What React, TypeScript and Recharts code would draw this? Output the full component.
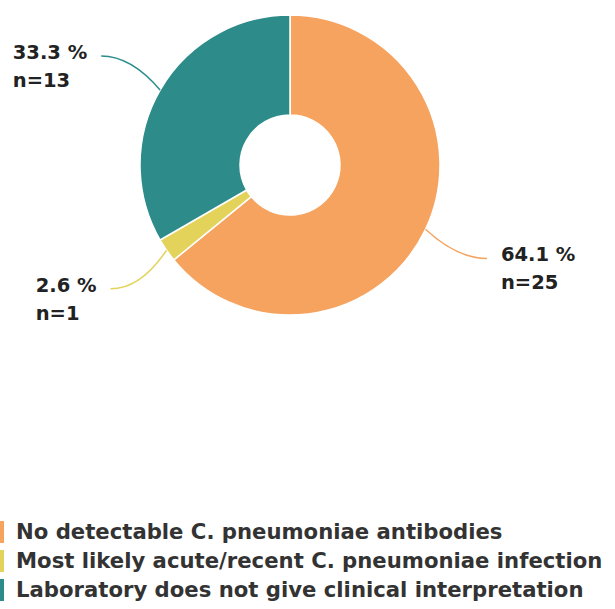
import { PieChart, Pie, Cell, Legend } from 'recharts'

const categories = [
  'No detectable C. pneumoniae antibodies',
  'Most likely acute/recent C. pneumoniae infection',
  'Laboratory does not give clinical interpretation',
]
const counts = [25, 1, 13]
const COLORS = ['#F5A35E', '#E3D35A', '#2D8C8A']

const data = categories.map((name, i) => ({ name, value: counts[i] }))
const total = counts.reduce((a, b) => a + b, 0)

const RADIAN = Math.PI / 180
const FONT = '"DejaVu Sans", sans-serif'
const LABEL_SIZE = 19.5

const CHAR_W: Record<string, number> = { '.': 0.38, ' ': 0.348, '%': 1.002, 'n': 0.712, '=': 0.838 }
const textWidth = (s: string) =>
  s.split('').reduce((w, c) => w + (CHAR_W[c] ?? 0.696), 0) * LABEL_SIZE

const renderLabel = (props: any) => {
  const { cx, cy, midAngle, outerRadius, index } = props
  const cos = Math.cos(-midAngle * RADIAN)
  const sin = Math.sin(-midAngle * RADIAN)
  const sx = cx + outerRadius * cos
  const sy = cy + outerRadius * sin
  const r2 = outerRadius + 68
  const ex = cx + r2 * cos
  const ey = cy + r2 * sin
  const right = cos >= 0
  const qx = ex + (right ? -30 : 30)
  const color = COLORS[index]
  const pct = `${((counts[index] / total) * 100).toFixed(1)} %`
  const n = `n=${counts[index]}`
  const w = Math.max(textWidth(pct), textWidth(n))
  const tx = right ? ex + 14 : ex - 14 - w
  return (
    <g>
      <path d={`M${sx},${sy} Q${qx},${ey} ${ex},${ey}`} stroke={color} strokeWidth={1.5} fill="none" />
      <text x={tx} y={ey + 3} fill="#222" fontSize={LABEL_SIZE} fontWeight="bold" fontFamily={FONT}>
        <tspan x={tx}>{pct}</tspan>
        <tspan x={tx} dy={28}>{n}</tspan>
      </text>
    </g>
  )
}

const renderLegend = () => (
  <div style={{ fontFamily: FONT }}>
    {categories.map((c, i) => (
      <div key={c} style={{ display: 'flex', alignItems: 'center', height: 29 }}>
        <span style={{ display: 'inline-block', width: 20, height: 22, background: COLORS[i], marginLeft: -16, marginRight: 12, flexShrink: 0 }} />
        <span style={{ fontSize: 21.2, fontWeight: 'bold', color: '#333', whiteSpace: 'nowrap' }}>{c}</span>
      </div>
    ))}
  </div>
)

export default function App() {
  return (
    <div style={{ position: 'absolute', left: 0, top: 0, background: '#fff' }}>
      <PieChart width={615} height={609} margin={{ top: 0, right: 0, bottom: 0, left: 0 }}>
        <Pie
          data={data}
          dataKey="value"
          nameKey="name"
          cx={290}
          cy={165}
          innerRadius={50}
          outerRadius={150}
          startAngle={90}
          endAngle={-270}
          stroke="#fff"
          strokeWidth={1.5}
          label={renderLabel}
          labelLine={false}
          isAnimationActive={false}
        >
          {data.map((_, i) => (
            <Cell key={i} fill={COLORS[i]} />
          ))}
        </Pie>
        <Legend content={renderLegend} wrapperStyle={{ left: 0, top: 517, width: 615 }} />
      </PieChart>
    </div>
  )
}
